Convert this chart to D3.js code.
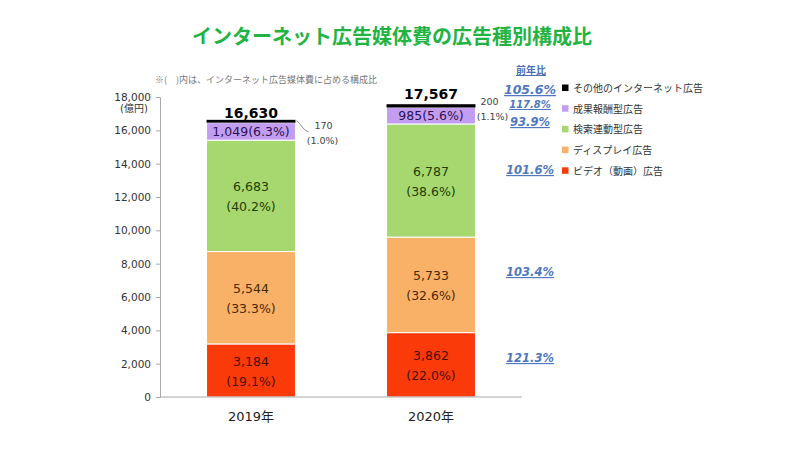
<!DOCTYPE html>
<html><head><meta charset="utf-8">
<script src="https://cdn.jsdelivr.net/npm/d3@7"></script>
<style>
body{margin:0;background:#fff;}
text{font-family:"DejaVu Sans","Noto Sans CJK JP",sans-serif;}
</style></head>
<body><svg id="c" width="800" height="450"></svg>
<script>
const years = ["2019年","2020年"];
const seriesNames = ["ビデオ（動画）広告","ディスプレイ広告","検索連動型広告","成果報酬型広告","その他のインターネット広告"];
const video   = [3184, 3862];
const display = [5544, 5733];
const search  = [6683, 6787];
const reward  = [1049, 985];
const other   = [170, 200];
const shares = {
  video:   ["19.1%","22.0%"],
  display: ["33.3%","32.6%"],
  search:  ["40.2%","38.6%"],
  reward:  ["6.3%","5.6%"],
  other:   ["1.0%","1.1%"]
};
const totals = [16630, 17567];
const yoyLabels = ["105.6%","117.8%","93.9%","101.6%","103.4%","121.3%"];
const yTicks = [0,2000,4000,6000,8000,10000,12000,14000,16000,18000];

const colors = ["#fb3a0a","#f8b167","#a6d86f","#c39ef0","#000000"];
const textColors = ["#4a0e00","#4a2a06","#223d05","#2a1250","#000"];

const svg = d3.select("#c");
const fmt = d3.format(",");

const y = d3.scaleLinear().domain([0,18000]).range([397,97]);
const x = d3.scaleBand().domain(years).range([161,521]).paddingInner(0.506).paddingOuter(0.253);

// title
svg.append("text").attr("x",392).attr("y",44).attr("text-anchor","middle")
  .attr("font-size",20).attr("font-weight","bold").attr("fill","#22b443")
  .style("font-family","'Noto Sans CJK JP',sans-serif")
  .text("インターネット広告媒体費の広告種別構成比");

// note
svg.append("text").attr("x",155).attr("y",83).attr("font-size",9).attr("fill","#777")
  .style("font-family","'Noto Sans CJK JP',sans-serif")
  .text("※(　)内は、インターネット広告媒体費に占める構成比");

// y axis
const ya = svg.append("g").attr("transform","translate(160,0)")
  .call(d3.axisLeft(y).tickValues(yTicks).tickFormat(fmt).tickSize(4).tickPadding(5));
ya.select(".domain").attr("stroke","#aaa");
ya.selectAll(".tick line").attr("stroke","#aaa");
ya.selectAll(".tick text").attr("font-size",10.5).attr("fill","#333")
  .style("font-family","'DejaVu Sans',sans-serif");
svg.append("text").attr("x",134).attr("y",112).attr("text-anchor","middle")
  .attr("font-size",10).attr("fill","#333").text("(億円)");

// stack
const rows = years.map((yr,i)=>({year:yr, video:video[i], display:display[i], search:search[i], reward:reward[i], other:other[i]}));
const keys = ["video","display","search","reward","other"];
const stacked = d3.stack().keys(keys)(rows);

const g = svg.append("g");
stacked.forEach((s,k)=>{
  g.selectAll(null).data(s).enter().append("rect")
    .attr("x",d=>x(d.data.year))
    .attr("width",x.bandwidth())
    .attr("y",d=>y(d[1]))
    .attr("height",d=>y(d[0])-y(d[1]))
    .attr("fill",colors[k])
    .attr("stroke", k<4 ? "#fff" : "none")
    .attr("stroke-width", k<4 ? 1 : 0);
});

// x axis
const xa = svg.append("g").attr("transform","translate(0,397)")
  .call(d3.axisBottom(x).tickSize(0).tickPadding(15));
xa.select(".domain").attr("stroke","#aaa").attr("d","M160,0H522");
xa.selectAll(".tick text").attr("font-size",13).attr("fill","#222");

// labels inside big segments
[0,1,2].forEach(k=>{
  const key = keys[k];
  stacked[k].forEach((d,i)=>{
    const cx = x(d.data.year)+x.bandwidth()/2;
    const cy = (y(d[0])+y(d[1]))/2;
    const t = svg.append("text").attr("text-anchor","middle").attr("font-size",12.5).attr("fill",textColors[k]);
    t.append("tspan").attr("x",cx).attr("y",cy-4.5).text(fmt(d.data[key]));
    t.append("tspan").attr("x",cx).attr("y",cy+15.5).text("("+shares[key][i]+")");
  });
});
// reward labels
stacked[3].forEach((d,i)=>{
  const cx = x(d.data.year)+x.bandwidth()/2;
  const cy = (y(d[0])+y(d[1]))/2;
  svg.append("text").attr("x",cx).attr("y",cy+4.5).attr("text-anchor","middle")
    .attr("font-size",12.5).attr("fill",textColors[3])
    .text(fmt(d.data.reward)+"("+shares.reward[i]+")");
});
// totals
totals.forEach((t,i)=>{
  const cx = x(years[i])+x.bandwidth()/2;
  svg.append("text").attr("x",cx).attr("y",y(t)-(i===0?2:5)).attr("text-anchor","middle")
    .attr("font-size",14).attr("font-weight","bold").attr("fill","#000").text(fmt(t));
});
// other callouts
{
  const d = stacked[4][0];
  const rx = x(d.data.year)+x.bandwidth();
  const ty = y(d[1]);
  svg.append("path").attr("d",`M${rx+1},${ty+1} C${rx+5},${ty+3} ${rx+7},${ty+10} ${rx+13},${ty+12}`)
    .attr("fill","none").attr("stroke","#888").attr("stroke-width",1);
  svg.append("text").attr("x",rx+28).attr("y",ty+9).attr("text-anchor","middle").attr("font-size",9.5).attr("fill","#444").text(fmt(d.data.other));
  svg.append("text").attr("x",rx+27).attr("y",ty+24).attr("text-anchor","middle").attr("font-size",9.5).attr("fill","#444").text("("+shares.other[0]+")");
}
{
  const d = stacked[4][1];
  const rx = x(d.data.year)+x.bandwidth();
  const ty = y(d[1]);
  svg.append("text").attr("x",rx+14).attr("y",ty+1).attr("text-anchor","middle").attr("font-size",9.5).attr("fill","#444").text(fmt(d.data.other));
  svg.append("text").attr("x",rx+17).attr("y",ty+16).attr("text-anchor","middle").attr("font-size",9.5).attr("fill","#444").text("("+shares.other[1]+")");
}

// YoY
const yoyX = 530;
svg.append("text").attr("x",yoyX+1).attr("y",74).attr("text-anchor","middle").attr("font-size",10)
  .attr("font-weight","bold").attr("fill","#4a6fb5").attr("text-decoration","underline")
  .style("font-family","'Noto Sans CJK JP',sans-serif").text("前年比");
const yoyPos = [94, 108, 126, 174, 276, 362];
const yoySize = [12.5, 10, 11.5, 11.5, 11.5, 11.5];
yoyLabels.forEach((l,i)=>{
  svg.append("text").attr("x",yoyX).attr("y",yoyPos[i]).attr("text-anchor","middle")
    .attr("font-size",yoySize[i]).attr("font-style","italic").attr("font-weight","bold")
    .attr("fill","#5078c0").attr("text-decoration","underline").text(l);
});

// legend (reverse order)
const legendOrder = [4,3,2,1,0];
legendOrder.forEach((k,j)=>{
  const ly = 88 + j*20.7;
  svg.append("rect").attr("x",562).attr("y",ly-3.5).attr("width",6.5).attr("height",6.5).attr("fill",colors[k]);
  svg.append("text").attr("x",573).attr("y",ly+4).attr("font-size",10).attr("fill","#333")
    .style("font-family","'Noto Sans CJK JP',sans-serif").text(seriesNames[k]);
});
</script></body></html>
